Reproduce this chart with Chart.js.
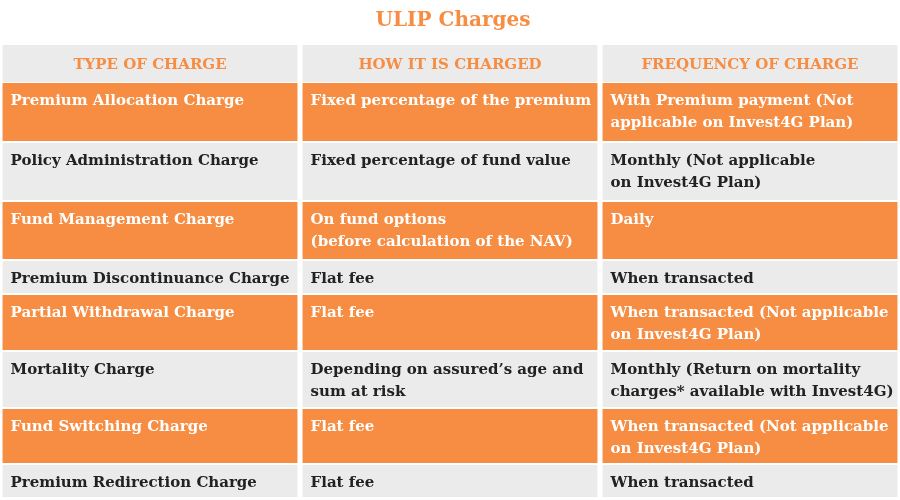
<!DOCTYPE html>
<html><head><meta charset="utf-8">
<script src="https://cdn.jsdelivr.net/npm/chart.js@4/dist/chart.umd.min.js"></script>
<style>html,body{margin:0;padding:0;background:#fff}#w{width:900px;height:500px}</style>
</head><body><div id="w"><canvas id="c" width="900" height="500"></canvas></div>
<script>
const titleText = "ULIP Charges";
const columns = ["TYPE OF CHARGE", "HOW IT IS CHARGED", "FREQUENCY OF CHARGE"];
const rowTops =    [45, 83, 143, 202, 261, 295, 352, 409, 465];
const rowBottoms = [82, 141, 200, 259, 293, 350, 407, 463, 497];
const typeCol = ["Premium Allocation Charge","Policy Administration Charge","Fund Management Charge","Premium Discontinuance Charge","Partial Withdrawal Charge","Mortality Charge","Fund Switching Charge","Premium Redirection Charge"];
const howCol = [["Fixed percentage of the premium"],["Fixed percentage of fund value"],["On fund options","(before calculation of the NAV)"],["Flat fee"],["Flat fee"],["Depending on assured\u2019s age and","sum at risk"],["Flat fee"],["Flat fee"]];
const freqCol = [["With Premium payment (Not","applicable on Invest4G Plan)"],["Monthly (Not applicable","on Invest4G Plan)"],["Daily"],["When transacted"],["When transacted (Not applicable","on Invest4G Plan)"],["Monthly (Return on mortality","charges* available with Invest4G)"],["When transacted (Not applicable","on Invest4G Plan)"],["When transacted"]];

const ORANGE = "#F68D42", GREY = "#EBEBEC";
const datasets = rowTops.map((t, i) => ({
  data: columns.map(() => [t, rowBottoms[i]]),
  backgroundColor: i === 0 ? GREY : (i % 2 === 1 ? ORANGE : GREY),
  grouped: false, borderWidth: 0, barPercentage: 0.983, categoryPercentage: 1
}));

const textPlugin = {
  id: 'cellText',
  afterDatasetsDraw(chart) {
    const ctx = chart.ctx;
    ctx.save();
    ctx.font = "bold 20px 'DejaVu Serif'";
    ctx.fillStyle = ORANGE; ctx.textAlign = "center"; ctx.textBaseline = "middle";
    ctx.fillText(titleText, 453, 21);
    chart.data.datasets.forEach((ds, i) => {
      const meta = chart.getDatasetMeta(i);
      meta.data.forEach((bar, j) => {
        const left = bar.x - bar.width / 2;
        const top = Math.min(bar.y, bar.base);
        if (i === 0) {
          ctx.font = "bold 15px 'DejaVu Serif'";
          ctx.fillStyle = ORANGE; ctx.textAlign = "center";
          ctx.fillText(columns[j], bar.x, top + 20);
          return;
        }
        const r = i - 1;
        const lines = j === 0 ? [typeCol[r]] : (j === 1 ? howCol[r] : freqCol[r]);
        ctx.font = "bold 15px 'DejaVu Serif'";
        ctx.fillStyle = (i % 2 === 1) ? "#fff" : "#222";
        ctx.textAlign = "left";
        lines.forEach((ln, k) => ctx.fillText(ln, left + 8, top + 18 + k * 22));
      });
    });
    ctx.restore();
  }
};

new Chart(document.getElementById('c'), {
  type: 'bar',
  data: { labels: columns, datasets },
  options: {
    responsive: false, animation: false, devicePixelRatio: 1,
    layout: { padding: 0 },
    plugins: { legend: { display: false }, tooltip: { enabled: false } },
    scales: {
      x: { display: false, offset: true },
      y: { display: false, min: 0, max: 500, reverse: true }
    }
  },
  plugins: [textPlugin]
});
</script></body></html>
